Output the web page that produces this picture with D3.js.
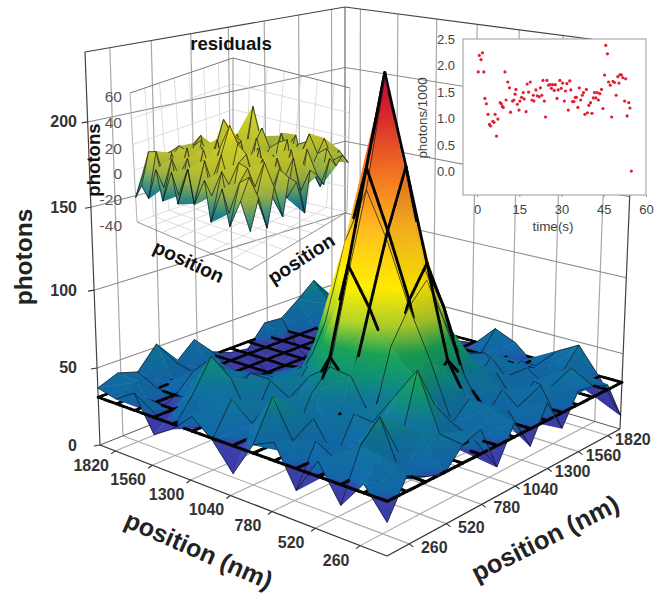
<!DOCTYPE html>
<html lang="en">
<head>
<meta charset="UTF-8">
<style>
  body { margin: 0; background: #fff; }
  text { font-family: "Liberation Sans", Arial, sans-serif; }
</style>
</head>
<body>
<script src="https://d3js.org/d3.v7.min.js"></script>
<script>
// ---- data ----
var positionTicks = [260, 520, 780, 1040, 1300, 1560, 1820]
var photonTicks = [0, 50, 100, 150, 200]
var residualTicks = [-40, -20, 0, 20, 40, 60]
var insetGridTicks = [1, 2, 3, 4, 5, 6]
var timeTicks = [0, 15, 30, 45, 60]
var rateTicks = [0, 0.5, 1, 1.5, 2, 2.5]

// rows go from the front corner towards the left corner, columns towards the right corner
var photonRows = [
  [19, 40, 34, 30, 42, 46, 18, 40, 20, 42, 21, 40, 38, 34, 9],
  [36, 46, 28, 50, 44, 30, 30, 44, 38, 27, 44, 28, 46, 27, 30],
  [19, 48, 60, 34, 78, 52, 36, 46, 30, 42, 26, 38, 28, 36, 48],
  [40, 30, 36, 44, 58, 66, 70, 62, 52, 50, 44, 28, 38, 28, 40],
  [18, 42, 26, 48, 38, 80, 100, 112, 84, 58, 34, 46, 28, 34, 26],
  [42, 30, 46, 30, 62, 92, 135, 170, 116, 70, 36, 30, 40, 26, 38],
  [36, 60, 28, 52, 64, 116, 163, 225, 158, 94, 50, 32, 36, 30, 44],
  [14, 38, 48, 36, 54, 80, 130, 158, 122, 70, 42, 30, 28, 26, 30],
  [30, 50, 30, 52, 36, 52, 76, 90, 64, 44, 30, 24, 22, 26, 28],
  [40, 28, 54, 36, 44, 30, 44, 46, 36, 26, 22, 20, 22, 24, 28],
  [28, 44, 64, 30, 44, 38, 26, 24, 20, 18, 16, 18, 24, 30, 34],
  [20, 30, 34, 48, 30, 30, 20, 16, 14, 12, 12, 16, 22, 28, 36],
  [42, 24, 30, 42, 46, 30, 22, 14, 10, 12, 12, 14, 28, 34, 30],
  [34, 40, 32, 28, 32, 28, 24, 16, 14, 16, 20, 30, 44, 36, 32],
  [37, 42, 38, 52, 35, 46, 33, 28, 26, 40, 39, 48, 58, 42, 36]
]
var fitRows = [
  [31, 31, 31, 31, 31, 31, 31, 31, 31, 31, 31, 31, 31, 31, 31],
  [31, 31, 31, 31, 31, 31, 31, 31, 31, 31, 31, 31, 31, 31, 31],
  [31, 31, 31, 31, 31, 31, 34, 42, 34, 31, 31, 31, 31, 31, 31],
  [31, 31, 31, 31, 33, 40, 55, 66, 50, 36, 31, 31, 31, 31, 31],
  [31, 31, 31, 31, 40, 70, 104, 122, 92, 55, 36, 31, 31, 31, 31],
  [31, 31, 31, 33, 55, 100, 142, 176, 120, 62, 38, 31, 31, 31, 31],
  [31, 31, 31, 42, 70, 122, 176, 228, 160, 85, 44, 31, 31, 31, 31],
  [31, 31, 31, 31, 44, 68, 124, 160, 112, 60, 36, 31, 31, 31, 31],
  [31, 31, 31, 31, 33, 46, 72, 88, 60, 38, 31, 31, 31, 31, 31],
  [31, 31, 31, 31, 31, 33, 44, 50, 38, 31, 31, 31, 31, 31, 31],
  [31, 31, 31, 31, 31, 31, 31, 33, 31, 31, 31, 31, 31, 31, 31],
  [31, 31, 31, 31, 31, 31, 31, 31, 31, 31, 31, 31, 31, 31, 31],
  [31, 31, 31, 31, 31, 31, 31, 31, 31, 31, 31, 31, 31, 31, 31],
  [31, 31, 31, 31, 31, 31, 31, 31, 31, 31, 31, 31, 31, 31, 31],
  [31, 31, 31, 31, 31, 31, 31, 31, 31, 31, 31, 31, 31, 31, 31]
]
var residualRows = [
  [-14, 6, -18, 8, -16, 10, 4, -22, 8, 2, -8, 10, 2, 8, 0],
  [4, 18, 2, 24, -4, 14, -10, 18, -10, 20, 0, -14, 14, 2, 8],
  [-16, 12, 20, 4, 22, -8, 18, 0, 20, -10, 14, -2, 8, 18, -6],
  [8, -12, 22, 26, 6, 20, -12, 14, -6, 16, -16, 10, 22, -12, 4],
  [-18, 16, 4, 32, 14, -2, 22, -8, 12, 0, 20, -12, 2, 12, -2],
  [10, -4, 24, 44, 20, 6, -12, 18, 4, -16, 16, -2, -18, 8, -8],
  [-10, 20, 2, 26, -10, 20, 4, -14, 22, 0, 10, -16, 8, -6, 12],
  [14, -14, 16, 4, 20, -12, 14, 20, -4, 14, 24, 0, -14, 14, 0],
  [-14, 10, -8, 20, -2, 16, -16, 10, 14, 12, 4, 14, -2, -10, 8],
  [8, -12, 14, -10, 16, -4, 20, -8, 20, 14, -8, 36, -12, 8, -6],
  [-16, 14, -2, 18, -14, 14, 0, 12, 30, -4, 14, -10, 6, -6, 6],
  [6, -10, 14, -8, 12, -16, 16, -4, 6, -12, 8, 0, -8, 4, -4],
  [-18, 16, -8, 8, 14, -6, 10, 16, -10, 6, -6, 6, -10, 0, -6],
  [-10, 14, 2, -10, 8, 10, -12, 8, 0, -8, 2, -8, -2, -10, -4],
  [-21, -6, 8, -12, 4, -6, 6, -10, -2, 2, -8, 0, -4, -6, -8]
]

var timeValues = [0.4, 2.4, 0.8, 1.9, 1.4, 2.8, 3.3, 3.9, 4.4, 4.8, 5.6, 6, 6.4, 6.9, 7.4, 8.2, 8.6, 9, 9.3, 9.9, 10.3, 10.9, 11.5, 11.9, 12.6, 13.1, 13.5, 13.8, 14.3, 14.9, 15.2, 15.8, 16.4, 16.7, 17.4, 17.8, 18.3, 18.9, 19.5, 20.2, 20, 20.9, 21.4, 22.1, 22.5, 23, 23.4, 23.9, 24.3, 24.8, 25.4, 25.9, 26.4, 26.8, 27.4, 27.8, 28.4, 28.8, 29.4, 29.9, 30.4, 31, 31.4, 31.9, 32.4, 32.9, 33.3, 33.9, 34.4, 34.9, 35.3, 35.8, 36.3, 36.8, 37.4, 37.8, 38.3, 38.8, 39.2, 39.7, 40.3, 40.8, 41.3, 41.7, 42.2, 42.7, 43.1, 43.6, 44.2, 44.7, 45.3, 45.7, 46.3, 46.7, 47.3, 47.8, 48.3, 48.8, 49.4, 50, 50.4, 50.8, 51.3, 51.8, 52.4, 52.8, 53.3, 53.9, 54.3, 54.8]
var rateValues = [1.88, 1.88, 2.19, 2.24, 2.11, 1.38, 1.28, 1.08, 0.89, 0.86, 0.95, 0.93, 1.08, 0.67, 0.99, 1.3, 1.28, 1.23, 1.21, 1.88, 1.35, 1.69, 1.58, 1.12, 1.33, 1.35, 1.46, 1.55, 1.27, 1.16, 1.33, 1.4, 1.49, 1.37, 1.13, 1.65, 1.5, 1.69, 1.35, 1.33, 1.44, 1.54, 1.43, 1.41, 1.58, 1.44, 1.72, 1.33, 1.03, 1.72, 1.63, 1.64, 1.57, 1.64, 1.53, 1.64, 1.38, 1.54, 1.72, 1.57, 1.67, 1.33, 1.52, 1.66, 1.16, 1.71, 1.54, 1.32, 1.32, 1.4, 1.4, 1.21, 1.58, 1.35, 1.44, 1.49, 1.08, 1.55, 1.11, 1.25, 1.3, 1.1, 1.39, 1.49, 1.39, 1.49, 1.35, 1.47, 1.55, 1.19, 1.82, 2.38, 2.22, 1.69, 1.63, 1.03, 1.7, 1.68, 1.44, 1.79, 1.67, 1.83, 1.82, 1.77, 1.33, 1.75, 1.05, 1.3, 1.2, 0.01]

// ---- page ----
var svgWidth = 665, svgHeight = 593
var svg = d3.select('body').append('svg')
  .attr('width', svgWidth)
  .attr('height', svgHeight)
var defs = svg.append('defs')

// maps the unit square onto a four sided figure, so the box keeps its perspective
function squareToQuad(p0, p1, p2, p3) {
  var dx1 = p1[0] - p2[0], dx2 = p3[0] - p2[0], sx = p0[0] - p1[0] + p2[0] - p3[0]
  var dy1 = p1[1] - p2[1], dy2 = p3[1] - p2[1], sy = p0[1] - p1[1] + p2[1] - p3[1]
  var den = dx1 * dy2 - dx2 * dy1
  var g = (sx * dy2 - dx2 * sy) / den, h = (dx1 * sy - sx * dy1) / den
  var a = p1[0] - p0[0] + g * p1[0], b = p3[0] - p0[0] + h * p3[0]
  var d = p1[1] - p0[1] + g * p1[1], e = p3[1] - p0[1] + h * p3[1]
  return function (s, t) {
    var w = g * s + h * t + 1
    return [(a * s + b * t + p0[0]) / w, (d * s + e * t + p0[1]) / w]
  }
}

// projector for one box: u goes to the left corner, v to the right corner
function makeBox(floorCorners, topCorners, uScale, vScale, zScale) {
  var floor = squareToQuad.apply(null, floorCorners)
  var top = squareToQuad.apply(null, topCorners)
  return function (u, v, z) {
    var s = uScale(u), t = vScale(v), f = zScale(z)
    var a = floor(s, t), b = top(s, t)
    return [a[0] + (b[0] - a[0]) * f, a[1] + (b[1] - a[1]) * f]
  }
}

var line2 = function (a, b) { return 'M' + a[0] + ',' + a[1] + 'L' + b[0] + ',' + b[1] }

var gradientCount = 0
// one triangle with the colour following height, in screen space
function triangleFill(pts, zs, colorScale, dark) {
  var shade = function (z) { return d3.rgb(colorScale(z)).darker(dark).formatRgb() }
  var zMin = d3.min(zs), zMax = d3.max(zs)
  var ax = pts[1][0] - pts[0][0], ay = pts[1][1] - pts[0][1]
  var bx = pts[2][0] - pts[0][0], by = pts[2][1] - pts[0][1]
  var det = ax * by - ay * bx
  if (zMax - zMin < 0.01 || Math.abs(det) < 0.01) return shade(zMin)
  var dz1 = zs[1] - zs[0], dz2 = zs[2] - zs[0]
  var gx = (dz1 * by - dz2 * ay) / det, gy = (ax * dz2 - bx * dz1) / det
  var len = gx * gx + gy * gy
  var start = pts[zs.indexOf(zMin)]
  var id = 'g' + (gradientCount++)
  var grad = defs.append('linearGradient').attr('id', id)
    .attr('gradientUnits', 'userSpaceOnUse')
    .attr('x1', start[0]).attr('y1', start[1])
    .attr('x2', start[0] + gx / len * (zMax - zMin))
    .attr('y2', start[1] + gy / len * (zMax - zMin))
  var stops = [zMin].concat(colorScale.domain().filter(function (z) { return z > zMin && z < zMax }), [zMax])
  stops.forEach(function (z) {
    grad.append('stop').attr('offset', (z - zMin) / (zMax - zMin)).attr('stop-color', shade(z))
  })
  return 'url(#' + id + ')'
}

// builds the painter's list of a surface, far cells first
function surfaceItems(rows, nodes, project, colorScale, thin, fit, meshWidth) {
  var items = []
  var n = rows.length
  for (var i = 0; i < n - 1; i++) {
    for (var j = 0; j < n - 1; j++) {
      var p = [[i, j], [i + 1, j], [i + 1, j + 1], [i, j + 1]].map(function (c) {
        return project(nodes[c[0]], nodes[c[1]], rows[c[0]][c[1]])
      })
      var z = [rows[i][j], rows[i + 1][j], rows[i + 1][j + 1], rows[i][j + 1]]
      var slope = (z[1] + z[2] - z[0] - z[3]) - (z[3] + z[2] - z[0] - z[1])
      var dark = 0.2 * Math.tanh(slope / 60)
      var tris = [[1, 2, 3], [0, 1, 3]]
      tris.forEach(function (t, k) {
        var pts = t.map(function (q) { return p[q] })
        var zs = t.map(function (q) { return z[q] })
        var fill = triangleFill(pts, zs, colorScale, dark)
        items.push({
          depth: i + j + 1 + (k == 0 ? 0.1 : 0),
          d: 'M' + pts.join('L') + 'Z', fill: fill, stroke: fill, width: 0.5, opacity: 1
        })
      })
    }
  }
  // thin mesh and thick fit mesh
  for (var a = 0; a < n; a++) {
    for (var b = 0; b < n - 1; b++) {
      [[a, b, a, b + 1], [b, a, b + 1, a]].forEach(function (e, k) {
        var onLine = (a % thin == 0)
        if (onLine) items.push({
          depth: e[0] + e[1] + 0.5 - 0.6,
          d: line2(project(nodes[e[0]], nodes[e[1]], rows[e[0]][e[1]]), project(nodes[e[2]], nodes[e[3]], rows[e[2]][e[3]])),
          fill: 'none', stroke: '#0a1218', width: 0.8, opacity: 0.85
        })
        if (!fit) return
        var pieces = 5
        for (var q = 0; q < pieces; q++) {
          var t0 = q / pieces, t1 = (q + 1) / pieces, tm = (t0 + t1) / 2
          var at = function (r, t) { return r[e[0]][e[1]] + (r[e[2]][e[3]] - r[e[0]][e[1]]) * t }
          var place = function (t) {
            return project(nodes[e[0]] + (nodes[e[2]] - nodes[e[0]]) * t, nodes[e[1]] + (nodes[e[3]] - nodes[e[1]]) * t, at(fit, t))
          }
          var sum = e[0] + e[1] + tm
          items.push({
            depth: sum + (at(fit, tm) >= at(rows, tm) ? -0.6 : 0.6),
            d: line2(place(t0), place(t1)),
            fill: 'none', stroke: '#050505', width: meshWidth(sum), opacity: 1, cap: 'round'
          })
        }
      })
    }
  }
  return items.sort(function (x, y) { return y.depth - x.depth })
}

function drawItems(g, items) {
  g.selectAll('path').data(items).join('path')
    .attr('d', function (d) { return d.d })
    .attr('fill', function (d) { return d.fill })
    .attr('stroke', function (d) { return d.stroke })
    .attr('stroke-width', function (d) { return d.width })
    .attr('stroke-opacity', function (d) { return d.opacity })
    .attr('stroke-linecap', function (d) { return d.cap || 'butt' })
    .attr('stroke-linejoin', 'round')
}

// ---- main box ----
var positionNodes = d3.range(15).map(function (k) { return 110 + 130 * k })
var uScale = d3.scaleLinear().domain([110, 1930]).range([0, 1])
var vScale = d3.scaleLinear().domain([110, 1930]).range([0, 1])
var zScale = d3.scaleLinear().domain([0, 50, 100, 150, 200, 240]).range([0, 0.196, 0.394, 0.605, 0.822, 1])
var project = makeBox(
  [[387, 556], [100, 445], [345, 347], [620, 429]],
  [[389, 106], [85, 52], [345, 7], [636, 45]],
  uScale, vScale, zScale)
var uLo = 110, uHi = 1930, zTop = 240

var walls = svg.append('g').attr('fill', 'none')
function wallLine(a, b, color, width) {
  walls.append('path').attr('d', line2(a, b)).attr('stroke', color).attr('stroke-width', width)
}
positionTicks.forEach(function (t) {
  wallLine(project(t, uLo, 0), project(t, uHi, 0), '#a8a8a8', 1.1)
  wallLine(project(uLo, t, 0), project(uHi, t, 0), '#a8a8a8', 1.1)
  wallLine(project(uHi, t, 0), project(uHi, t, zTop), '#a8a8a8', 1.2)
  wallLine(project(t, uHi, 0), project(t, uHi, zTop), '#a8a8a8', 1.2)
})
photonTicks.forEach(function (z) {
  if (z == 0) return
  wallLine(project(uHi, uLo, z), project(uHi, uHi, z), '#8c8c8c', 1.1)
  wallLine(project(uLo, uHi, z), project(uHi, uHi, z), '#8c8c8c', 1.1)
})
wallLine(project(uHi, uHi, 0), project(uHi, uHi, zTop), '#777', 1.3)
wallLine(project(uHi, uLo, zTop), project(uHi, uHi, zTop), '#444', 1.2)
wallLine(project(uLo, uHi, zTop), project(uHi, uHi, zTop), '#444', 1.2)
wallLine(project(uHi, uLo, 0), project(uHi, uLo, zTop), '#444', 1.2)
wallLine(project(uLo, uHi, 0), project(uLo, uHi, zTop), '#444', 1.2)
wallLine(project(uHi, uLo, 0), project(uHi, uHi, 0), '#555', 1)
wallLine(project(uLo, uHi, 0), project(uHi, uHi, 0), '#555', 1)
wallLine(project(uLo, uLo, 0), project(uHi, uLo, 0), '#333', 1.3)
wallLine(project(uLo, uLo, 0), project(uLo, uHi, 0), '#333', 1.3)

positionTicks.forEach(function (t) {
  var a = project(t, uLo, 0), b = project(uLo, t, 0)
  wallLine(a, [a[0] - 4, a[1] + 3], '#333', 1.2)
  wallLine(b, [b[0] + 4, b[1] + 3], '#333', 1.2)
})
photonTicks.forEach(function (z) {
  var a = project(uHi, uLo, z)
  wallLine(a, [a[0] - 6, a[1] + 1], '#333', 1.2)
})

// ---- residual box, sits behind the big surface ----
var insetUV = d3.scaleLinear().domain([0, 14]).range([0, 1])
var insetZ = d3.scaleLinear().domain([-40, 60]).range([0, 1])
var insetProject = makeBox(
  [[250, 270], [137, 222], [233, 187], [347, 212]],
  [[251, 122], [130, 93], [233, 58], [350, 88]],
  insetUV, insetUV, insetZ)
var insetWalls = svg.append('g').attr('fill', 'none')
function insetLine(a, b, color, width) {
  insetWalls.append('path').attr('d', line2(a, b)).attr('stroke', color).attr('stroke-width', width)
}
var insetLight = '#cfcfcf'
insetGridTicks.forEach(function (k) {
  var t = k * 2
  insetLine(insetProject(t, 0, -40), insetProject(t, 14, -40), insetLight, 0.7)
  insetLine(insetProject(0, t, -40), insetProject(14, t, -40), insetLight, 0.7)
  insetLine(insetProject(14, t, -40), insetProject(14, t, 60), insetLight, 0.7)
  insetLine(insetProject(t, 14, -40), insetProject(t, 14, 60), insetLight, 0.7)
})
residualTicks.forEach(function (z) {
  insetLine(insetProject(14, 0, z), insetProject(14, 14, z), z == 60 ? '#777' : insetLight, z == 60 ? 1 : 0.7)
  insetLine(insetProject(0, 14, z), insetProject(14, 14, z), z == 60 ? '#777' : insetLight, z == 60 ? 1 : 0.7)
})
insetLine(insetProject(14, 14, -40), insetProject(14, 14, 60), '#888', 0.9)
insetLine(insetProject(14, 0, -40), insetProject(14, 0, 60), '#aaa', 0.9)
insetLine(insetProject(0, 14, -40), insetProject(0, 14, 60), '#aaa', 0.9)
insetLine(insetProject(0, 0, -40), insetProject(14, 0, -40), '#888', 0.9)
insetLine(insetProject(0, 0, -40), insetProject(0, 14, -40), '#888', 0.9)

var insetColor = d3.scaleLinear()
  .domain([-30, -15, -6, 3, 14, 33, 38, 42, 46])
  .range(['#0a5a78', '#1b7a8a', '#4f9670', '#96ad42', '#b8bc2c', '#cac72a', '#e6cf1a', '#ffd200', '#f0a010'])
var insetNodes = d3.range(15)
drawItems(svg.append('g'), surfaceItems(residualRows, insetNodes, insetProject, insetColor, 1, null))

// ---- big surface ----
var surfaceColor = d3.scaleLinear()
  .domain([0, 29, 32, 50, 62, 75, 90, 110, 140, 175, 210, 228])
  .range(['#3c2fa0', '#3a40a8', '#1264a6', '#0f7296', '#0f8a72', '#1a9c52', '#a8c828', '#ffe600', '#fcb81e', '#ec6a20', '#d01c30', '#a80f36'])
var meshWidth = d3.scaleLinear().domain([0, 28]).range([3.2, 2.4])
drawItems(svg.append('g'), surfaceItems(photonRows, positionNodes, project, surfaceColor, 2, fitRows, meshWidth))

// ---- main labels ----
var labels = svg.append('g').attr('fill', '#333')
labels.selectAll('.z').data(photonTicks).join('text').attr('class', 'z')
  .attr('x', 77).attr('y', function (z) { return project(uHi, uLo, z)[1] + 5.5 })
  .attr('text-anchor', 'end').attr('font-size', 16).attr('font-weight', 'bold')
  .text(function (z) { return z })
labels.selectAll('.l').data(positionTicks).join('text').attr('class', 'l')
  .attr('x', function (t) { return project(t, uLo, 0)[0] - 24 })
  .attr('y', function (t) { return project(t, uLo, 0)[1] + 20 })
  .attr('text-anchor', 'middle').attr('font-size', 16).attr('font-weight', 'bold')
  .text(function (t) { return t })
labels.selectAll('.r').data(positionTicks).join('text').attr('class', 'r')
  .attr('x', function (t) { return project(uLo, t, 0)[0] + 25 })
  .attr('y', function (t) { return project(uLo, t, 0)[1] + 9 })
  .attr('text-anchor', 'middle').attr('font-size', 16).attr('font-weight', 'bold')
  .text(function (t) { return t })

function boldLabel(text, x, y, angle, size, color) {
  svg.append('text').attr('transform', 'translate(' + x + ',' + y + ') rotate(' + angle + ')')
    .attr('text-anchor', 'middle').attr('dominant-baseline', 'middle')
    .attr('font-size', size).attr('font-weight', 'bold').attr('fill', color || '#222')
    .text(text)
}
boldLabel('photons', 26, 257, -90, 24.5)
boldLabel('position (nm)', 198, 552, 23.7, 25)
boldLabel('position (nm)', 546, 540, -26.7, 25.5)
boldLabel('residuals', 231, 45, 0, 18.6, '#111')
boldLabel('photons', 95, 160, -90, 18.6, '#111')
boldLabel('position', 188, 263, 24.9, 19.4, '#111')
boldLabel('position', 302, 260, -33, 19.4, '#111')

svg.append('g').selectAll('text').data(residualTicks).join('text')
  .attr('x', 122).attr('y', function (z) { return insetProject(14, 0, z)[1] + 9 })
  .attr('text-anchor', 'end').attr('font-size', 15.5).attr('fill', '#555')
  .text(function (z) { return z })

// ---- scatter inset ----
var xScale = d3.scaleLinear().domain([-5, 60]).range([463, 646])
var yScale = d3.scaleLinear().domain([-0.44, 2.5]).range([195, 39])
var scatter = svg.append('g')
scatter.append('rect').attr('x', 463).attr('y', 39).attr('width', 183).attr('height', 156)
  .attr('fill', '#fff').attr('stroke', '#999').attr('stroke-width', 1)
scatter.selectAll('circle').data(timeValues).join('circle')
  .attr('cx', function (d) { return xScale(d) })
  .attr('cy', function (d, i) { return yScale(rateValues[i]) })
  .attr('r', 1.6).attr('fill', '#e2202f')

var xAxis = d3.axisBottom(xScale).tickValues(timeTicks).tickSize(2).tickPadding(8)
var yAxis = d3.axisLeft(yScale).tickValues(rateTicks).tickSize(0).tickPadding(8).tickFormat(d3.format('.1f'))
var gx = svg.append('g').attr('transform', 'translate(0,195)').call(xAxis)
var gy = svg.append('g').attr('transform', 'translate(463,0)').call(yAxis)
gx.select('.domain').remove()
gy.select('.domain').remove()
gx.selectAll('text').attr('font-size', 13).attr('font-family', null).attr('fill', '#444')
gy.selectAll('text').attr('font-size', 13).attr('font-family', null).attr('fill', '#444')
gx.selectAll('line').attr('stroke', '#999')
svg.append('text').attr('x', 553).attr('y', 231).attr('text-anchor', 'middle')
  .attr('font-size', 13.5).attr('fill', '#444').text('time(s)')
svg.append('text').attr('transform', 'translate(427,118) rotate(-90)').attr('text-anchor', 'middle')
  .attr('font-size', 13.4).attr('fill', '#444').text('photons/1000')
</script>
</body>
</html>
